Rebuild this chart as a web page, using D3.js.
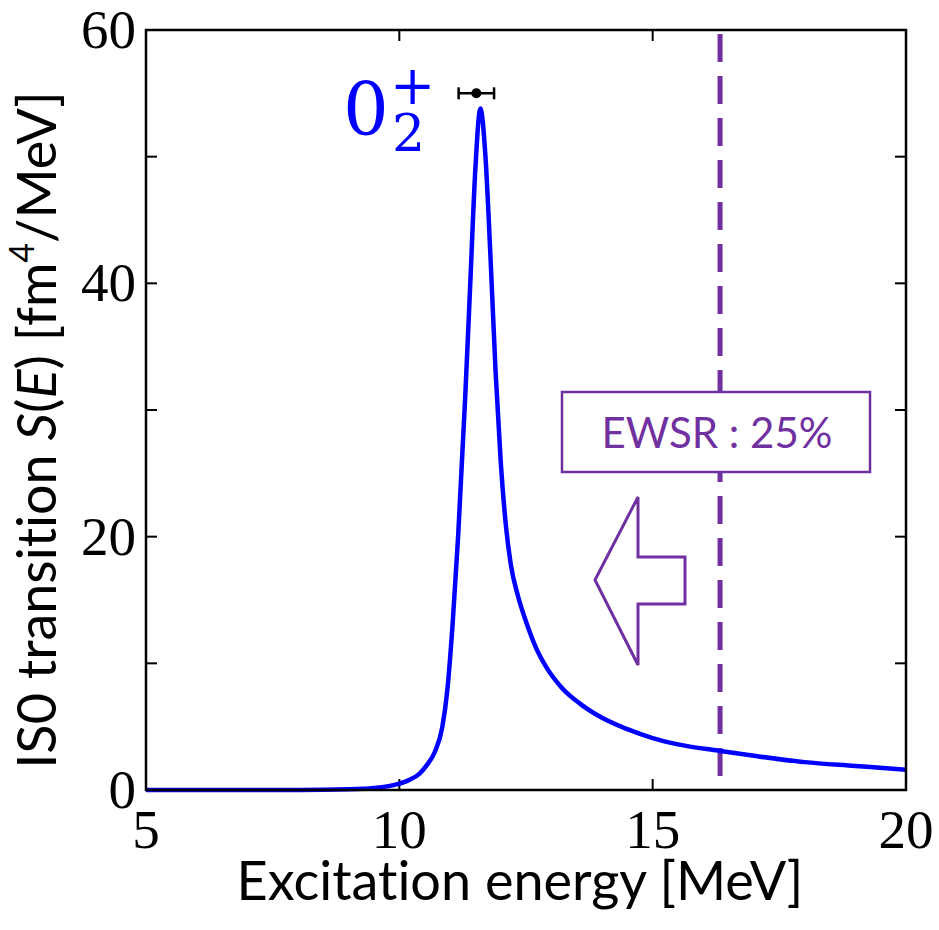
<!DOCTYPE html>
<html>
<head>
<meta charset="utf-8">
<script src="https://cdn.jsdelivr.net/npm/d3@7"></script>
<style>
  body { margin: 0; background: #fff; }
  .tick-lab { font-family: "Liberation Serif", serif; font-size: 55px; fill: #000; }
  .title { font-family: Lato, "Open Sans", sans-serif; font-size: 54px; fill: #000;
           font-variant-ligatures: none; }
</style>
</head>
<body>
<div id="chart"></div>
<script>
// curve: excitation energy (MeV) and S(E)
const energy = [5, 8, 9, 9.5, 10, 10.2, 10.4, 10.55, 10.7, 10.85, 10.95, 11.05, 11.16, 11.3, 11.4, 11.5, 11.6,
  11.7, 11.8, 11.9, 12.0, 12.1, 12.2, 12.35, 12.5, 12.7, 12.9, 13.2, 13.57, 14, 14.5, 15, 15.5, 16.3, 17, 18, 19, 20];
const strength = [0, 0, 0.05, 0.15, 0.5, 0.8, 1.3, 2.0, 3.0, 5, 8, 13, 20, 31, 40, 49, 53.8,
  50, 42, 33, 26, 21, 17.8, 15.2, 13.3, 11.2, 9.7, 8.1, 6.8, 5.7, 4.8, 4.1, 3.6, 3.1, 2.7, 2.2, 1.9, 1.6];

// experimental point with horizontal error bar
const expE = [11.52];
const expS = [55];
const expErr = [0.35];

const ewsrE = 16.33;
const xTicks = [5, 10, 15, 20];
const yTicks = [0, 10, 20, 30, 40, 50, 60];
const yLabels = [0, 20, 40, 60];

const purple = '#7030A0';

const margin = {top: 30, right: 33, bottom: 140, left: 146};
const W = 939, H = 930;
const w = W - margin.left - margin.right;
const h = H - margin.top - margin.bottom;

const svg = d3.select('#chart').append('svg')
  .attr('width', W)
  .attr('height', H);

const g = svg.append('g').attr('transform', `translate(${margin.left},${margin.top})`);

const x = d3.scaleLinear().domain([5, 20]).range([0, w]);
const y = d3.scaleLinear().domain([0, 60]).range([h, 0]);

// ticks, all pointing inward on the four sides
const tk = 11;
const ticks = g.append('g').attr('stroke', '#000').attr('stroke-width', 2);
xTicks.forEach(v => {
  ticks.append('line').attr('x1', x(v)).attr('x2', x(v)).attr('y1', h).attr('y2', h - tk);
  ticks.append('line').attr('x1', x(v)).attr('x2', x(v)).attr('y1', 0).attr('y2', tk);
});
yTicks.forEach(v => {
  ticks.append('line').attr('x1', 0).attr('x2', tk).attr('y1', y(v)).attr('y2', y(v));
  ticks.append('line').attr('x1', w).attr('x2', w - tk).attr('y1', y(v)).attr('y2', y(v));
});

// tick labels
g.append('g').selectAll('text').data(xTicks).join('text')
  .attr('class', 'tick-lab')
  .attr('x', d => x(d)).attr('y', h + 58)
  .attr('text-anchor', 'middle')
  .text(d => d);
g.append('g').selectAll('text').data(yLabels).join('text')
  .attr('class', 'tick-lab')
  .attr('x', -10).attr('y', d => y(d) + 18)
  .attr('text-anchor', 'end')
  .text(d => d);

// EWSR dashed line
g.append('line')
  .attr('x1', x(ewsrE)).attr('x2', x(ewsrE))
  .attr('y1', 4).attr('y2', h)
  .attr('stroke', purple).attr('stroke-width', 5)
  .attr('stroke-dasharray', '28,14');

// the curve
const line = d3.line()
  .x((d, i) => x(energy[i]))
  .y(d => y(d))
  .curve(d3.curveMonotoneX);
g.append('path')
  .datum(strength)
  .attr('d', line)
  .attr('fill', 'none')
  .attr('stroke', '#0000FF')
  .attr('stroke-width', 4.5);

// experimental point
expE.forEach((e, i) => {
  const pg = g.append('g').attr('stroke', '#000').attr('stroke-width', 2.5);
  pg.append('line').attr('x1', x(e - expErr[i])).attr('x2', x(e + expErr[i]))
    .attr('y1', y(expS[i])).attr('y2', y(expS[i]));
  [e - expErr[i], e + expErr[i]].forEach(v => {
    pg.append('line').attr('x1', x(v)).attr('x2', x(v))
      .attr('y1', y(expS[i]) - 6).attr('y2', y(expS[i]) + 6);
  });
  g.append('circle').attr('cx', x(e)).attr('cy', y(expS[i])).attr('r', 5).attr('fill', '#000');
});

// EWSR box
const box = g.append('g');
box.append('rect')
  .attr('x', 562 - margin.left).attr('y', 392 - margin.top)
  .attr('width', 308).attr('height', 80)
  .attr('fill', '#fff').attr('stroke', purple).attr('stroke-width', 2.5);
box.append('text')
  .attr('x', 717 - margin.left).attr('y', 448 - margin.top)
  .attr('text-anchor', 'middle')
  .attr('font-family', 'Lato, "Open Sans", sans-serif')
  .attr('font-size', 42)
  .attr('fill', purple)
  .text('EWSR : 25%');

// hollow arrow pointing left
const arrow = [[595, 580], [638, 497], [638, 557], [685, 557], [685, 604], [638, 604], [638, 665]];
svg.append('polygon')
  .attr('points', arrow.map(p => p.join(',')).join(' '))
  .attr('fill', '#fff').attr('stroke', purple).attr('stroke-width', 3);

// frame
g.append('rect').attr('width', w).attr('height', h)
  .attr('fill', 'none').attr('stroke', '#000').attr('stroke-width', 2.5);

// 0_2^+ label
const lab = svg.append('text')
  .attr('x', 343).attr('y', 135)
  .attr('font-family', '"DejaVu Serif", serif')
  .attr('fill', '#0000FF');
lab.append('tspan').attr('font-size', 72).text('0');
lab.append('tspan').attr('font-size', 54).attr('x', 390).attr('y', 104).text('+');
lab.append('tspan').attr('font-size', 52).attr('x', 392).attr('y', 151).text('2');

// axis titles
svg.append('text').attr('class', 'title')
  .attr('x', margin.left + w / 2 - 6).attr('y', 900)
  .attr('text-anchor', 'middle')
  .text('Excitation energy [MeV]');

const yt = svg.append('text').attr('class', 'title')
  .attr('font-size', 56)
  .attr('transform', `translate(56,${margin.top + h / 2 + 20}) rotate(-90)`)
  .attr('text-anchor', 'middle');
yt.append('tspan').text('IS0 transition ');
yt.append('tspan').attr('font-style', 'italic').text('S');
yt.append('tspan').text('(');
yt.append('tspan').attr('font-style', 'italic').text('E');
yt.append('tspan').text(') [fm');
yt.append('tspan').attr('font-size', 34).attr('dy', -22).text('4');
yt.append('tspan').attr('dy', 22).text('/MeV]');
</script>
</body>
</html>
